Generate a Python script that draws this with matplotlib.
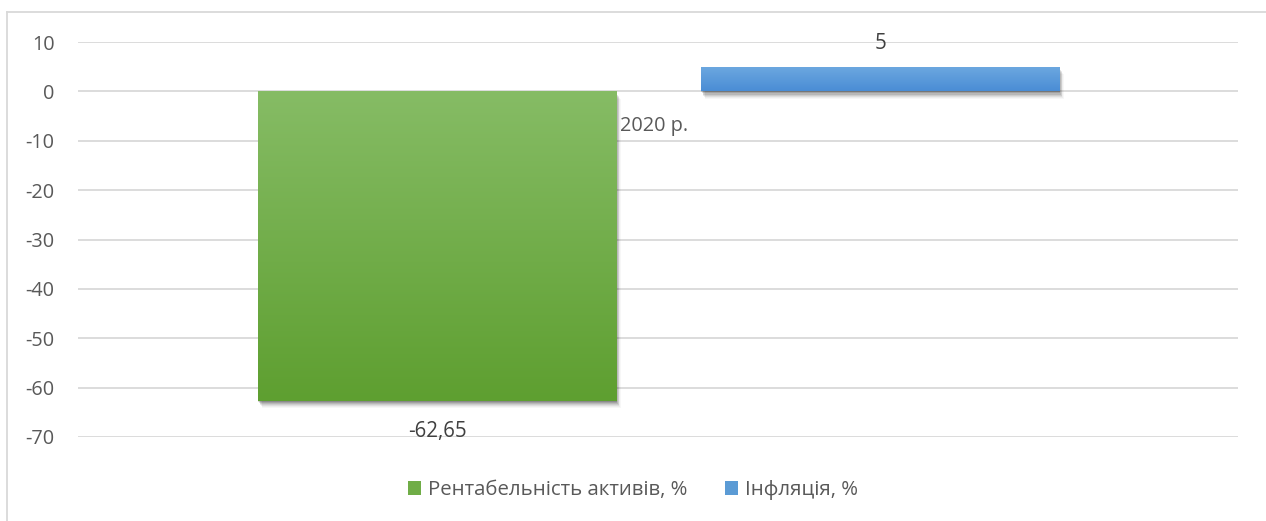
import numpy as np
import matplotlib
matplotlib.use("Agg")
import matplotlib.pyplot as plt
from matplotlib.patches import Patch
from matplotlib.lines import Line2D
import matplotlib.patheffects as pe

plt.rcParams['font.family'] = ['Open Sans', 'DejaVu Sans']

category = "2020 р."
series_names = ["Рентабельність активів, %", "Інфляція, %"]
values = [-62.65, 5]
value_labels = ["-62,65", "5"]
yticks = [10, 0, -10, -20, -30, -40, -50, -60, -70]

colors_top = ["#86BC65", "#6DA8E0"]
colors_bot = ["#5E9F30", "#4A8DD5"]
solid = ["#70AD47", "#5B9BD5"]

FS = 14.3
W, H = 1266, 521
fig = plt.figure(figsize=(W / 100, H / 100), dpi=100)
ax = fig.add_axes([78 / W, 1 - 437 / H, (1238 - 78) / W, (437 - 42) / H])
ax.set_xlim(-0.5, 0.5)
ax.set_ylim(-70, 10)
for s in ax.spines.values():
    s.set_visible(False)
ax.set_yticks(yticks)
ax.set_yticklabels([str(t) for t in yticks], fontsize=FS, color="#595959")
ax.tick_params(axis='y', length=0, pad=17)
ax.set_xticks([])
ax.grid(axis='y', color="#D9D9D9", lw=1.3)
ax.set_axisbelow(True)

offsets = [-0.1905, 0.1914]
width = 0.309
bars = ax.bar(offsets, values, width=width, color=solid, zorder=2)
shadow = []
for k, a in [(1, 0.14), (2, 0.12), (3, 0.10), (4, 0.08), (5, 0.06), (6, 0.04), (7, 0.03)]:
    shadow.append(pe.SimplePatchShadow(offset=(k * 0.45, -k * 0.75), shadow_rgbFace="#000000", alpha=a))
for b, ct, cb in zip(bars, colors_top, colors_bot):
    b.set_path_effects(shadow + [pe.Normal()])
    x0, y0 = b.get_x(), b.get_y()
    w, h = b.get_width(), b.get_height()
    lo, hi = min(y0, y0 + h), max(y0, y0 + h)
    c1 = np.array(matplotlib.colors.to_rgb(ct))
    c2 = np.array(matplotlib.colors.to_rgb(cb))
    t = np.linspace(0, 1, 256)[:, None]
    grad = (c1 * (1 - t) + c2 * t)[:, None, :]
    im = ax.imshow(grad, extent=[x0, x0 + w, lo, hi], origin='upper', aspect='auto', zorder=3)
    im.set_clip_path(b)

ax.set_xlim(-0.5, 0.5)
ax.set_ylim(-70, 10)

# data labels
ax.annotate(value_labels[0], (offsets[0], values[0]), xytext=(0, -22), textcoords='offset points',
            ha='center', va='center', fontsize=FS + 0.5, color="#404040")
ax.annotate(value_labels[1], (offsets[1], values[1]), xytext=(0, 17), textcoords='offset points',
            ha='center', va='center', fontsize=FS + 0.5, color="#404040")

# category label
ax.text(-0.003, -7, category, ha='center', va='center', fontsize=FS, color="#595959")

handles = [Patch(facecolor=solid[0], edgecolor='none'), Patch(facecolor=solid[1], edgecolor='none')]
fig.legend(handles, series_names, loc='center', bbox_to_anchor=(0.5, 1 - 490 / H), ncol=2, frameon=False,
           fontsize=FS + 0.4, labelcolor="#595959", handlelength=0.65, handleheight=0.65, handletextpad=0.35,
           columnspacing=1.85)

# outer frame (left and top only visible)
fig.add_artist(Line2D([7 / W, 7 / W], [0, 1 - 12 / H], color="#D9D9D9", lw=1.3))
fig.add_artist(Line2D([7 / W, 1], [1 - 12 / H, 1 - 12 / H], color="#D9D9D9", lw=1.3))

fig.savefig("out.png", dpi=100)
